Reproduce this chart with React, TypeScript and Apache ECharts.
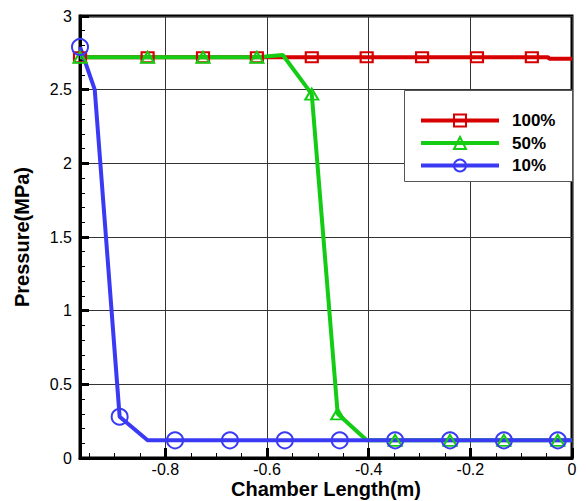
import React, { useEffect, useRef } from "react";
import * as echarts from "echarts";

const FONT = 'Arial, "Liberation Sans", sans-serif';

const seriesNames = ["100%", "50%", "10%"];

const redX = [-0.968, -0.835, -0.726, -0.62, -0.512, -0.404, -0.295, -0.187, -0.079, -0.047, -0.045, 0];
const redY = [2.72, 2.72, 2.72, 2.72, 2.72, 2.72, 2.72, 2.72, 2.72, 2.72, 2.71, 2.71];
const redMark = [1, 1, 1, 1, 1, 1, 1, 1, 1, 0, 0, 0];

const greenX = [-0.968, -0.835, -0.726, -0.62, -0.569, -0.512, -0.461, -0.404, -0.348, -0.24, -0.134, -0.028, 0];
const greenY = [2.72, 2.72, 2.72, 2.72, 2.735, 2.47, 0.3, 0.12, 0.12, 0.12, 0.12, 0.12, 0.12];
const greenMark = [1, 1, 1, 1, 0, 1, 1, 0, 1, 1, 1, 1, 0];

const blueX = [-0.968, -0.939, -0.89, -0.835, -0.781, -0.673, -0.565, -0.457, -0.348, -0.24, -0.134, -0.028, 0];
const blueY = [2.79, 2.5, 0.28, 0.12, 0.12, 0.12, 0.12, 0.12, 0.12, 0.12, 0.12, 0.12, 0.12];
const blueMark = [1, 0, 1, 0, 1, 1, 1, 1, 1, 1, 1, 1, 0];

const xMajorTicks = [-0.8, -0.6, -0.4, -0.2, 0];
const xMinorTicks = [-0.95, -0.9, -0.85, -0.75, -0.7, -0.65, -0.55, -0.5, -0.45, -0.35, -0.3, -0.25, -0.15, -0.1, -0.05];

const RED = "#d60000";
const GREEN = "#14cc14";
const BLUE = "#3a3af5";

function build(xs: number[], ys: number[], marks: number[]) {
  return xs.map((x, i) => {
    const item: any = { value: [x, ys[i]] };
    if (!marks[i]) item.symbol = "none";
    return item;
  });
}

export default function App() {
  const ref = useRef<HTMLDivElement>(null);
  useEffect(() => {
    if (!ref.current) return;
    const chart = echarts.init(ref.current, undefined, { renderer: "svg" });
    const mk = (name: string, color: string, symbol: string, size: any, data: any[]) => ({
      name,
      type: "line",
      xAxisIndex: 0,
      yAxisIndex: 0,
      data,
      symbol,
      symbolSize: size,
      showAllSymbol: true,
      lineStyle: { color, width: 4 },
      itemStyle: { color: "rgba(255,255,255,0)", borderColor: color, borderWidth: 2 },
      emphasis: { disabled: true },
    });
    chart.setOption({
      animation: false,
      backgroundColor: "#fff",
      grid: {
        left: 80,
        right: 14,
        top: 16,
        bottom: 43,
        outerBoundsMode: "none",
        containLabel: false,
        show: true,
        borderColor: "#000",
        borderWidth: 3,
        backgroundColor: "transparent",
      },
      xAxis: [
        {
          type: "value",
          min: -0.968,
          max: 0,
          position: "bottom",
          name: "Chamber Length(m)",
          nameLocation: "middle",
          nameGap: 21,
          nameMoveOverlap: false,
          nameTextStyle: { fontFamily: FONT, fontSize: 20, lineHeight: 20, fontWeight: "bold", color: "#000" },
          axisLine: { show: true, onZero: false, lineStyle: { color: "#000", width: 3 } },
          axisTick: { show: true, inside: true, length: 10, lineStyle: { color: "#000", width: 3 }, customValues: xMajorTicks },
          axisLabel: { customValues: xMajorTicks, color: "#000", fontSize: 16, lineHeight: 16, margin: 3, fontFamily: FONT },
          splitLine: { show: true, lineStyle: { color: "#333", width: 1 } },
        },
        {
          type: "value",
          min: -0.968,
          max: 0,
          position: "bottom",
          offset: 0,
          axisLine: { show: false },
          axisTick: { show: true, inside: true, length: 5, lineStyle: { color: "#000", width: 1 }, customValues: xMinorTicks },
          axisLabel: { show: false },
          splitLine: { show: false },
        },
      ],
      yAxis: {
        type: "value",
        min: 0,
        max: 3,
        interval: 0.5,
        name: "Pressure(MPa)",
        nameLocation: "middle",
        nameRotate: 90,
        nameGap: 48,
        nameMoveOverlap: false,
        nameTextStyle: { fontFamily: FONT, fontSize: 20, fontWeight: "bold", color: "#000" },
        axisLine: { show: true, onZero: false, lineStyle: { color: "#000", width: 3 } },
        axisTick: { show: true, inside: true, length: 9, lineStyle: { color: "#000", width: 3 } },
        minorTick: { show: true, splitNumber: 5, length: 5, lineStyle: { color: "#000", width: 1 } },
        axisLabel: { color: "#000", fontSize: 16, margin: 8, fontFamily: FONT },
        splitLine: { show: true, lineStyle: { color: "#333", width: 1 } },
      },
      legend: {
        data: seriesNames,
        orient: "vertical",
        left: 419,
        top: 112,
        padding: 0,
        itemWidth: 78,
        itemHeight: 15,
        itemGap: 5.5,
        z: 10,
        lineStyle: { width: 4 },
        textStyle: { fontFamily: FONT, fontSize: 17, fontWeight: "bold", color: "#000", padding: [0, 0, 0, 8] },
      },
      graphic: [
        {
          type: "rect",
          z: 3,
          shape: { x: 404.5, y: 90.5, width: 168, height: 91 },
          style: { fill: "#fff", stroke: "#555", lineWidth: 1 },
        },
      ],
      series: [
        mk(seriesNames[0], RED, "rect", [12, 10], build(redX, redY, redMark)),
        mk(seriesNames[1], GREEN, "triangle", [13, 11], build(greenX, greenY, greenMark)),
        mk(seriesNames[2], BLUE, "circle", 16, build(blueX, blueY, blueMark)),
      ],
    });
    return () => chart.dispose();
  }, []);
  return <div ref={ref} style={{ position: "fixed", left: 0, top: 0, width: 586, height: 501 }} />;
}
